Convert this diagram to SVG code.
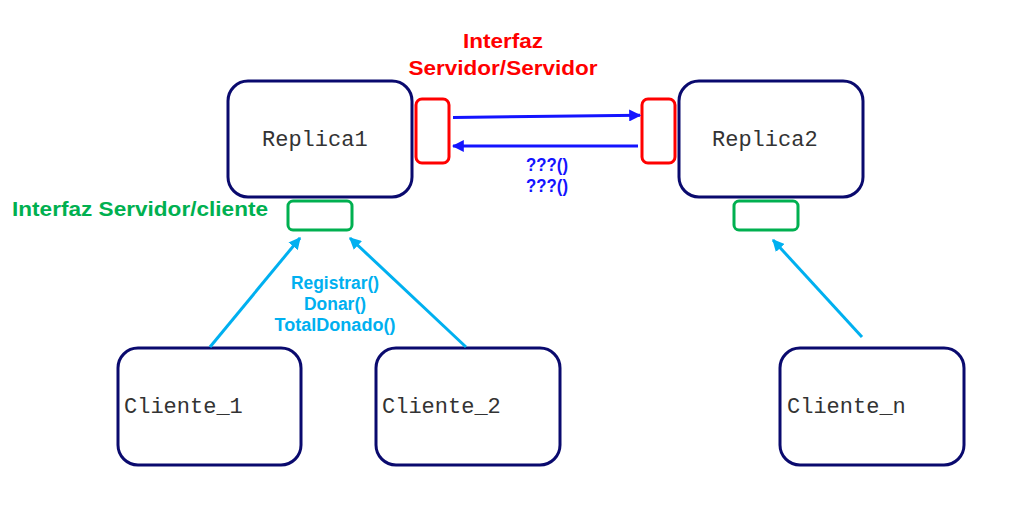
<svg xmlns="http://www.w3.org/2000/svg" width="1034" height="518" viewBox="0 0 1034 518">
  <defs>
    <marker id="headBlue" viewBox="0 0 10 10" refX="9" refY="5" markerWidth="4" markerHeight="4" orient="auto" markerUnits="strokeWidth">
      <path d="M0,0 L10,5 L0,10 z" fill="#1414ff"/>
    </marker>
    <marker id="headCyan" viewBox="0 0 10 10" refX="9" refY="5" markerWidth="4" markerHeight="4" orient="auto" markerUnits="strokeWidth">
      <path d="M0,0 L10,5 L0,10 z" fill="#00b0f0"/>
    </marker>
    <style>
      .node { fill: #ffffff; stroke: #0a0a6e; stroke-width: 3; }
      .srv { fill: #ffffff; stroke: #ff0000; stroke-width: 3; }
      .cli { fill: #ffffff; stroke: #00b050; stroke-width: 3; }
      .mono { font-family: "Liberation Mono", "Courier New", monospace; font-size: 22px; fill: #333333; }
      .lbl { font-family: "Liberation Sans", Arial, sans-serif; font-weight: bold; }
      .call { stroke: #1414ff; stroke-width: 3; fill: none; marker-end: url(#headBlue); }
      .req { stroke: #00b0f0; stroke-width: 3; fill: none; marker-end: url(#headCyan); }
    </style>
  </defs>
  <rect width="1034" height="518" fill="#ffffff"/>

  <!-- interface titles -->
  <g id="title-servidor">
    <text class="lbl" x="503" y="48" font-size="21" fill="#ff0000" text-anchor="middle" textLength="80" lengthAdjust="spacingAndGlyphs">Interfaz</text>
    <text class="lbl" x="503" y="75" font-size="21" fill="#ff0000" text-anchor="middle" textLength="189" lengthAdjust="spacingAndGlyphs">Servidor/Servidor</text>
  </g>
  <g id="title-cliente">
    <text class="lbl" x="12" y="216" font-size="21" fill="#00b050" textLength="256" lengthAdjust="spacingAndGlyphs">Interfaz Servidor/cliente</text>
  </g>

  <!-- replicas -->
  <g id="replica1">
    <rect class="node" x="228" y="81" width="184" height="116" rx="20"/>
    <text class="mono" x="262" y="146">Replica1</text>
    <rect class="srv" x="416" y="99" width="33" height="64" rx="6"/>
    <rect class="cli" x="288" y="201" width="64" height="29" rx="5"/>
  </g>
  <g id="replica2">
    <rect class="node" x="679" y="81" width="184" height="116" rx="20"/>
    <text class="mono" x="712" y="146">Replica2</text>
    <rect class="srv" x="642" y="99" width="33" height="64" rx="6"/>
    <rect class="cli" x="734" y="201" width="64" height="29" rx="5"/>
  </g>

  <!-- clients -->
  <g id="cliente1">
    <rect class="node" x="118" y="348" width="183" height="117" rx="20"/>
    <text class="mono" x="124" y="413">Cliente_1</text>
  </g>
  <g id="cliente2">
    <rect class="node" x="376" y="348" width="184" height="117" rx="20"/>
    <text class="mono" x="382" y="413">Cliente_2</text>
  </g>
  <g id="clienten">
    <rect class="node" x="780" y="348" width="184" height="117" rx="20"/>
    <text class="mono" x="787" y="413">Cliente_n</text>
  </g>

  <!-- connectors -->
  <g id="connectors">
    <line class="call" x1="453" y1="117.5" x2="640" y2="115.3"/>
    <line class="call" x1="638" y1="146" x2="453" y2="146"/>
    <line class="req" x1="210" y1="347" x2="300" y2="238"/>
    <line class="req" x1="466" y1="347" x2="350" y2="238"/>
    <line class="req" x1="862" y1="337" x2="773" y2="240"/>
  </g>

  <!-- method labels -->
  <g id="labels-servidor" class="lbl" font-size="17.5" fill="#1414ff" text-anchor="middle">
    <text x="547" y="171" textLength="42" lengthAdjust="spacingAndGlyphs">???()</text>
    <text x="547" y="192" textLength="42" lengthAdjust="spacingAndGlyphs">???()</text>
  </g>
  <g id="labels-cliente" class="lbl" font-size="17.5" fill="#00b0f0" text-anchor="middle">
    <text x="335" y="289" textLength="88" lengthAdjust="spacingAndGlyphs">Registrar()</text>
    <text x="335" y="310" textLength="62" lengthAdjust="spacingAndGlyphs">Donar()</text>
    <text x="335" y="331" textLength="121" lengthAdjust="spacingAndGlyphs">TotalDonado()</text>
  </g>
</svg>
